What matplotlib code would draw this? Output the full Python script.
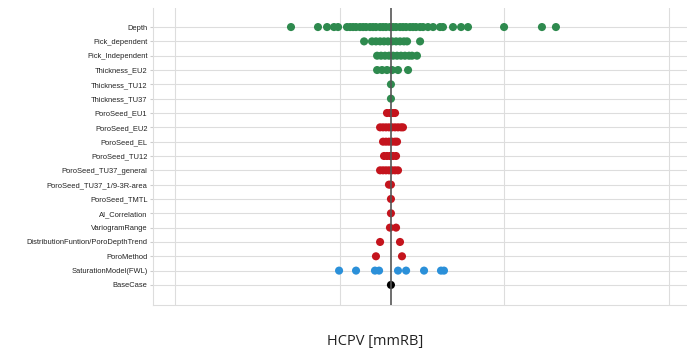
import matplotlib.pyplot as plt

# Sensitivity of HCPV to each uncertainty
categories = [
    "Depth", "Pick_dependent", "Pick_Independent", "Thickness_EU2",
    "Thickness_TU12", "Thickness_TU37", "PoroSeed_EU1", "PoroSeed_EU2",
    "PoroSeed_EL", "PoroSeed_TU12", "PoroSeed_TU37_general",
    "PoroSeed_TU37_1/9-3R-area", "PoroSeed_TMTL", "AI_Correlation",
    "VariogramRange", "DistributionFuntion/PoroDepthTrend", "PoroMethod",
    "SaturationModel(FWL)", "BaseCase",
]

base_case = 231.1

depth = [170.4, 186.8, 192.3, 196.5, 199.0, 204.4, 206.3, 208.1, 209.9, 212.3,
         214.2, 216.0, 218.4, 220.2, 222.0, 224.5, 226.3, 228.1, 230.5, 232.4,
         234.2, 236.6, 238.4, 240.3, 242.7, 244.5, 246.3, 248.8, 250.6, 253.6,
         256.7, 260.9, 262.7, 268.8, 273.7, 277.9, 299.8, 322.8, 331.3]
pick_dependent = [214.8, 219.6, 222.0, 224.5, 226.9, 229.3, 231.8, 234.2,
                  236.6, 239.0, 240.9, 248.8]
pick_independent = [222.7, 225.1, 227.5, 229.9, 232.4, 234.8, 237.2, 239.6,
                    242.1, 243.9, 246.9]
thickness_eu2 = [222.7, 225.7, 228.7, 231.8, 235.4, 241.5]
thickness_tu12 = [231.1]
thickness_tu37 = [231.1]
poro_eu1 = [228.7, 230.5, 232.4, 233.6]
poro_eu2 = [224.5, 226.3, 228.1, 229.9, 231.8, 233.6, 235.4, 237.2, 238.4]
poro_el = [226.3, 228.1, 229.9, 231.8, 233.6, 234.8]
poro_tu12 = [226.9, 228.7, 230.5, 232.4, 234.2]
poro_tu37_general = [224.5, 226.3, 228.1, 229.9, 231.8, 233.6, 235.4]
poro_tu37_area = [229.9, 231.1]
poro_tmtl = [231.1]
ai_correlation = [231.1]
variogram_range = [230.5, 234.2]
distribution_trend = [224.5, 236.6]
poro_method = [222.0, 237.8]
saturation_model = [199.6, 209.9, 221.4, 223.9, 235.4, 240.3, 251.2, 261.5, 263.3]
base = [231.1]

series = [depth, pick_dependent, pick_independent, thickness_eu2,
          thickness_tu12, thickness_tu37, poro_eu1, poro_eu2, poro_el,
          poro_tu12, poro_tu37_general, poro_tu37_area, poro_tmtl,
          ai_correlation, variogram_range, distribution_trend, poro_method,
          saturation_model, base]

GREEN = "#2e8a4e"
RED = "#c4141d"
BLUE = "#2b90d9"
colors = [GREEN] * 6 + [RED] * 11 + [BLUE, "black"]

fig = plt.figure(figsize=(6.87, 3.59), dpi=100)
ax = fig.add_axes([153 / 687, 1 - 305 / 359, 1 - 153 / 687, (305 - 8) / 359])

for i, (values, color) in enumerate(zip(series, colors)):
    ax.scatter(values, [i] * len(values), s=34, color=color, edgecolors="none", zorder=3)

ax.axvline(base_case, color="#555555", lw=1.2, zorder=4)

ax.set_yticks(range(len(categories)))
ax.set_yticklabels(categories, fontsize=5.4, family="Liberation Sans", color="#222222")
ax.set_ylim(len(categories) - 1 + 1.4, -1.33)
ax.set_xlim(86.6, 410.9)
ax.set_xticks([100, 200, 300, 400])
ax.tick_params(axis="x", labelbottom=False, length=0)
ax.tick_params(axis="y", length=2, color="#cccccc", pad=2)

ax.grid(True, color="#dddddd", lw=0.8, zorder=0)
ax.set_axisbelow(True)
for side in ["top", "right"]:
    ax.spines[side].set_visible(False)
for side in ["left", "bottom"]:
    ax.spines[side].set_color("#dddddd")

fig.text(375 / 687, 1 - 342 / 359, "HCPV [mmRB]", ha="center", va="center",
         fontsize=10.5, family="Open Sans", color="#222222")

fig.savefig("out.png", dpi=100)
